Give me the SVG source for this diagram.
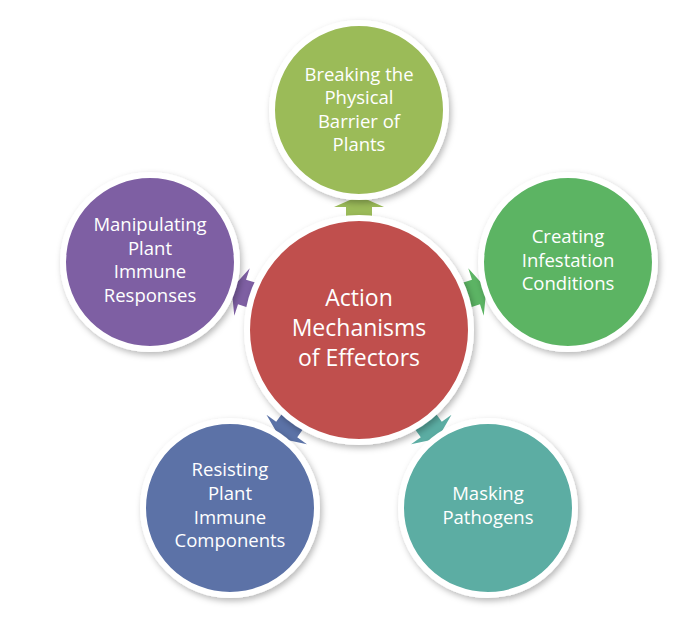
<svg xmlns="http://www.w3.org/2000/svg" width="698" height="618" viewBox="0 0 698 618">
  <defs>
    <filter id="sh" x="-20%" y="-20%" width="140%" height="140%">
      <feDropShadow dx="2" dy="3" stdDeviation="3" flood-color="#000" flood-opacity="0.28"/>
    </filter>
    <path id="arr" d="M-13,-100 L-13,-123 L-25,-123 L0,-134 L25,-123 L13,-123 L13,-100 Z"/>
  </defs>
  <style>
    .c { stroke: #ffffff; stroke-width: 6; filter: url(#sh); }
    .t { fill: #ffffff; font-family: "Open Sans", "Liberation Sans", sans-serif; font-size: 18.5px; text-anchor: middle; }
    .tc { font-size: 23px; }
  </style>
  <rect width="698" height="618" fill="#ffffff"/>
  <g id="connectors">
    <use href="#arr" transform="translate(359,330) rotate(0)" fill="#9BBB59"/>
    <use href="#arr" transform="translate(359,330) rotate(72)" fill="#5CB464"/>
    <use href="#arr" transform="translate(359,330) rotate(144)" fill="#5BADA3"/>
    <use href="#arr" transform="translate(359,330) rotate(216)" fill="#5B72A7"/>
    <use href="#arr" transform="translate(359,330) rotate(288)" fill="#7E5FA3"/>
  </g>
  <g id="n-top">
    <circle class="c" cx="359" cy="110" r="87" fill="#9BBB59"/>
    <text class="t" x="359" y="81">Breaking the</text>
    <text class="t" x="359" y="104">Physical</text>
    <text class="t" x="359" y="128">Barrier of</text>
    <text class="t" x="359" y="151">Plants</text>
  </g>
  <g id="n-right">
    <circle class="c" cx="568" cy="262" r="87" fill="#5CB464"/>
    <text class="t" x="568" y="243">Creating</text>
    <text class="t" x="568" y="267">Infestation</text>
    <text class="t" x="568" y="290">Conditions</text>
  </g>
  <g id="n-bottomright">
    <circle class="c" cx="488" cy="508" r="87" fill="#5BADA3"/>
    <text class="t" x="488" y="500">Masking</text>
    <text class="t" x="488" y="524">Pathogens</text>
  </g>
  <g id="n-bottomleft">
    <circle class="c" cx="230" cy="508" r="87" fill="#5B72A7"/>
    <text class="t" x="230" y="476">Resisting</text>
    <text class="t" x="230" y="500">Plant</text>
    <text class="t" x="230" y="524">Immune</text>
    <text class="t" x="230" y="547">Components</text>
  </g>
  <g id="n-left">
    <circle class="c" cx="150" cy="262" r="87" fill="#7E5FA3"/>
    <text class="t" x="150" y="231">Manipulating</text>
    <text class="t" x="150" y="255">Plant</text>
    <text class="t" x="150" y="278">Immune</text>
    <text class="t" x="150" y="302">Responses</text>
  </g>
  <g id="n-center">
    <circle class="c" cx="359" cy="330" r="112" fill="#C0504D"/>
    <text class="t tc" x="359" y="306">Action</text>
    <text class="t tc" x="359" y="336">Mechanisms</text>
    <text class="t tc" x="359" y="366">of Effectors</text>
  </g>
</svg>
